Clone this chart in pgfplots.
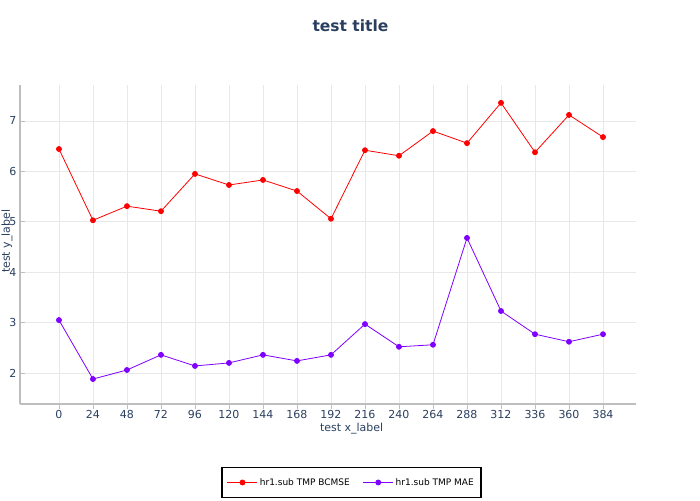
\documentclass[border=0pt]{standalone}
\usepackage{fontspec}
\setmainfont{DejaVu Sans}
\usepackage{pgfplots}
\pgfplotsset{compat=1.18}
\definecolor{txt}{HTML}{2A3F5F}
\definecolor{gridc}{HTML}{E8E8E8}
\definecolor{spine}{HTML}{BEBEBE}
\definecolor{redc}{HTML}{FF0000}
\definecolor{purc}{HTML}{7F00FF}
\begin{document}
\begin{tikzpicture}[x=1pt,y=1pt]
\path[use as bounding box] (0,0) rectangle (700,500);
\node[text=txt,font=\fontsize{15.5}{18}\selectfont\bfseries] at (350.5,474) {test title};
\begin{axis}[
  at={(20pt,96pt)}, anchor=south west,
  scale only axis, width=616pt, height=319pt,
  xmin=-27.5, xmax=407.3, ymin=1.385, ymax=7.714,
  xtick={0,24,...,384}, ytick={2,3,4,5,6,7},
  grid=major, major grid style={gridc, line width=0.8pt},
  axis x line*=bottom, axis y line*=left,
  axis line style={spine, line width=1.5pt, -},
  x tick style={spine, line width=0.8pt}, y tick style={spine,line width=0.8pt},
  xtick align=outside, ytick align=inside,
  major tick length=5pt,
  tick label style={text=txt, font=\fontsize{11}{13}\selectfont},
  /pgf/number format/assume math mode=true,
  /pgf/number format/1000 sep={},
  xticklabel style={yshift=2pt},
  yticklabel style={xshift=0pt},
  xlabel={test x\_label}, ylabel={test y\_label},
  label style={text=txt, font=\fontsize{11}{13}\selectfont},
  xlabel style={at={(axis description cs:0.5384,-0.077)}, anchor=center},
  ylabel style={at={(axis description cs:-0.021,0.51)}, anchor=center},
  legend columns=2,
  legend style={at={(axis description cs:0.538,-0.246)}, anchor=center,
    draw=black, line width=1.5pt, font=\fontsize{9}{11}\selectfont,
    inner xsep=5pt, inner ysep=9pt,
    /tikz/every even column/.append style={column sep=11pt}},
  legend image code/.code={
    \draw[line width=0.8pt,#1] (0pt,0pt) -- (30pt,0pt);
    \fill[#1] (15pt,0pt) circle (2.5pt);
  },
]
\addplot[redc, line width=0.8pt, mark=*, mark size=2.5pt, mark options={solid}] coordinates {
(0,6.444) (24,5.03) (48,5.31) (72,5.21) (96,5.95) (120,5.73) (144,5.83) (168,5.61)
(192,5.06) (216,6.42) (240,6.31) (264,6.80) (288,6.56) (312,7.36) (336,6.38) (360,7.12) (384,6.68)};
\addlegendentry{hr1.sub TMP BCMSE}
\addplot[purc, line width=0.8pt, mark=*, mark size=2.5pt, mark options={solid}] coordinates {
(0,3.05) (24,1.88) (48,2.06) (72,2.36) (96,2.14) (120,2.20) (144,2.36) (168,2.24)
(192,2.36) (216,2.97) (240,2.52) (264,2.56) (288,4.68) (312,3.23) (336,2.77) (360,2.62) (384,2.77)};
\addlegendentry{hr1.sub TMP MAE}
\end{axis}
\end{tikzpicture}
\end{document}
